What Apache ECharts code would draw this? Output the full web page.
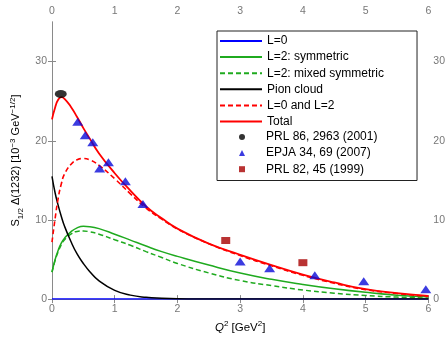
<!DOCTYPE html>
<html>
<head>
<meta charset="utf-8">
<script src="https://cdn.jsdelivr.net/npm/echarts@6/dist/echarts.min.js"></script>
<style>
  html, body { margin: 0; padding: 0; background: #fff; }
  #chart { width: 448px; height: 339px; }
</style>
</head>
<body>
<div id="chart"></div>
<script>
// Q^2 grid for the model curves
const q2 = [0, 0.05, 0.1, 0.15, 0.2, 0.3, 0.4, 0.5, 0.6, 0.75, 1.0, 1.25, 1.5, 1.75, 2.0, 2.5, 3.0, 3.5, 4.0, 4.5, 5.0, 5.5, 6.0];

const l0 = [0, 0, 0, 0, 0, 0, 0, 0, 0, 0, 0, 0, 0, 0, 0, 0, 0, 0, 0, 0, 0, 0, 0];
const l2Sym = [3.4, 5.0, 6.2, 7.1, 7.7, 8.5, 9.0, 9.2, 9.15, 8.9, 8.2, 7.45, 6.7, 6.0, 5.4, 4.3, 3.3, 2.5, 1.85, 1.3, 0.85, 0.5, 0.3];
const l2Mixed = [3.4, 4.9, 6.0, 6.9, 7.5, 8.2, 8.55, 8.6, 8.5, 8.2, 7.5, 6.8, 6.0, 5.25, 4.5, 3.3, 2.35, 1.7, 1.15, 0.75, 0.45, 0.25, 0.12];
const pion = [15.5, 13.4, 11.8, 10.4, 9.2, 7.3, 5.7, 4.5, 3.5, 2.3, 1.1, 0.5, 0.22, 0.1, 0.04, 0.01, 0, 0, 0, 0, 0, 0, 0];
const l0l2 = [7.2, 10.2, 12.8, 14.6, 15.8, 17.0, 17.6, 17.75, 17.6, 16.9, 15.2, 13.3, 11.5, 10.1, 8.85, 7.0, 5.5, 4.2, 3.0, 2.0, 1.2, 0.7, 0.35];
const total = [22.7, 24.2, 25.2, 25.5, 25.3, 24.3, 23.0, 21.6, 20.3, 18.4, 15.9, 13.7, 11.7, 10.2, 8.9, 7.0, 5.6, 4.3, 3.1, 2.1, 1.25, 0.75, 0.4];

// data points
const prl86X = [0.14];
const prl86Y = [25.9];
const epjaX = [0.41, 0.53, 0.65, 0.76, 0.90, 1.17, 1.45, 3.0, 3.47, 4.19, 4.97, 5.96];
const epjaY = [22.4, 20.7, 19.8, 16.5, 17.3, 14.9, 12.0, 4.75, 3.9, 3.0, 2.27, 1.24];
const prl82X = [2.77, 4.0];
const prl82Y = [7.4, 4.6];

const xTicks = [0, 1, 2, 3, 4, 5, 6];
const yTicks = [0, 10, 20, 30];

const lineNames = ['L=0', 'L=2: symmetric', 'L=2: mixed symmetric', 'Pion cloud', 'L=0 and L=2', 'Total'];
const pointNames = ['PRL 86, 2963 (2001)', 'EPJA 34, 69 (2007)', 'PRL 82, 45 (1999)'];

const zip = (xs, ys) => xs.map((x, i) => [x, ys[i]]);

const axisGray = '#8a8a8a';
const labelGray = '#777';
const font = 'Liberation Sans, Arial, sans-serif';

const lineSeries = (name, ys, color, dashed, width, z) => ({
    name: name,
    type: 'line',
    data: zip(q2, ys),
    smooth: true,
    symbol: 'none',
    lineStyle: { color: color, width: width || 1.5, type: dashed ? [5, 3] : 'solid' },
    itemStyle: { color: color },
    z: z || 3
});

const xAxisBase = {
    type: 'value', min: 0, max: 6, interval: 1,
    axisLine: { lineStyle: { color: axisGray, width: 1 } },
    axisTick: { inside: true, length: 4, lineStyle: { color: axisGray } },
    splitLine: { show: false },
    axisLabel: { color: labelGray, fontSize: 10.5, fontFamily: font, margin: 5,
        formatter: v => xTicks.includes(v) ? String(v) : '' }
};
const yAxisBase = {
    type: 'value', min: 0, max: 35, interval: 10,
    axisLine: { show: true, lineStyle: { color: axisGray, width: 1 } },
    axisTick: { show: true, inside: true, length: 4, lineStyle: { color: axisGray } },
    splitLine: { show: false },
    axisLabel: { color: labelGray, fontSize: 10.5, fontFamily: font, margin: 5, showMaxLabel: false,
        formatter: v => yTicks.includes(v) ? String(v) : '' }
};

const chart = echarts.init(document.getElementById('chart'), null, { renderer: 'canvas' });

chart.setOption({
    animation: false,
    backgroundColor: '#fff',
    textStyle: { fontFamily: font },
    grid: { left: 52, right: 19, top: 22, bottom: 36 },
    xAxis: [
        Object.assign({}, xAxisBase, {
            position: 'bottom',
            name: '{i|Q}{sup|2}{b| [GeV}{sup|2}{b|]}',
            nameLocation: 'middle',
            nameGap: 20,
            nameTextStyle: {
                rich: {
                    i: { fontSize: 11.5, fontStyle: 'italic', color: '#000', lineHeight: 16, fontFamily: font },
                    b: { fontSize: 11.5, color: '#000', lineHeight: 16, fontFamily: font },
                    sup: { fontSize: 8, color: '#000', verticalAlign: 'top', lineHeight: 9, fontFamily: font }
                }
            }
        }),
        Object.assign({}, xAxisBase, { position: 'top' })
    ],
    yAxis: [
        Object.assign({}, yAxisBase, {
            position: 'left',
            name: '{b|S}{sub|1/2}{b| Δ(1232) [10}{sup|−3}{b| GeV}{sup|−1/2}{b|]}',
            nameLocation: 'middle',
            nameRotate: 90,
            nameGap: 24,
            nameTextStyle: {
                rich: {
                    b: { fontSize: 11, color: '#000', lineHeight: 16, fontFamily: font },
                    sub: { fontSize: 8, color: '#000', verticalAlign: 'bottom', lineHeight: 9, fontFamily: font },
                    sup: { fontSize: 8, color: '#000', verticalAlign: 'top', lineHeight: 9, fontFamily: font }
                }
            }
        }),
        Object.assign({}, yAxisBase, { position: 'right' })
    ],
    legend: [
        {
            // line entries; its padding also frames the marker entries below
            orient: 'vertical',
            left: 217,
            top: 31,
            padding: [3, 33, 52, 2],
            itemWidth: 42,
            itemHeight: 6,
            itemGap: 2.1,
            backgroundColor: '#fff',
            borderColor: '#222',
            borderWidth: 1,
            borderRadius: 0,
            z: 4,
            textStyle: { fontSize: 12, color: '#000', fontFamily: font, lineHeight: 14 },
            data: lineNames.map(n => ({ name: n, itemStyle: { opacity: 0 } }))
        },
        {
            orient: 'vertical',
            left: 239,
            top: 130,
            padding: 0,
            itemWidth: 6,
            itemHeight: 6,
            itemGap: 2.1,
            z: 5,
            textStyle: { fontSize: 12, color: '#000', fontFamily: font, lineHeight: 14, padding: [0, 0, 0, 16] },
            data: pointNames
        }
    ],
    series: [
        lineSeries('L=0', l0, '#0000ff', false, 1.5),
        lineSeries('L=2: symmetric', l2Sym, '#1faa1f', false, 1.5),
        lineSeries('L=2: mixed symmetric', l2Mixed, '#1faa1f', true, 1.5),
        lineSeries('Pion cloud', pion, '#000000', false, 1.5),
        lineSeries('L=0 and L=2', l0l2, '#ff0000', true, 1.6),
        lineSeries('Total', total, '#ff0000', false, 1.8),
        {
            name: pointNames[0], type: 'scatter',
            data: zip(prl86X, prl86Y), symbol: 'circle', symbolSize: [12, 8],
            itemStyle: { color: '#000' }, z: 4
        },
        {
            name: pointNames[1], type: 'scatter',
            data: zip(epjaX, epjaY), symbol: 'triangle', symbolSize: [11, 8],
            itemStyle: { color: '#0a0ad8' }, z: 4
        },
        {
            name: pointNames[2], type: 'scatter',
            data: zip(prl82X, prl82Y), symbol: 'rect', symbolSize: [9, 7],
            itemStyle: { color: '#a80000' }, z: 4
        }
    ]
});
</script>
</body>
</html>
